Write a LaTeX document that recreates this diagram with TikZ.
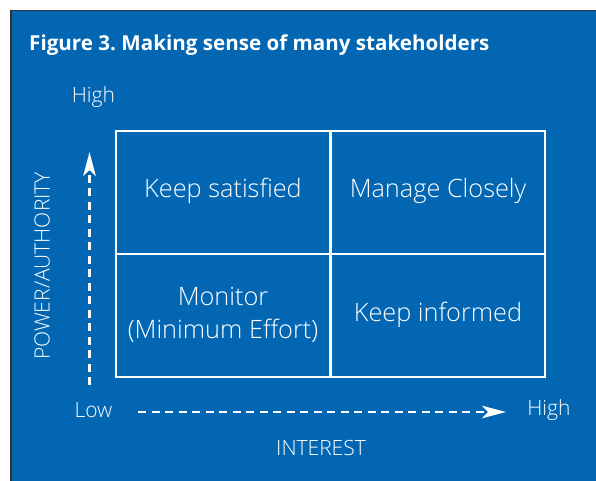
\documentclass[tikz,border=0pt]{standalone}
\usepackage{fontspec}
\setmainfont{Open Sans}
\newfontfamily\lightfont{Open Sans Light}
\usetikzlibrary{arrows.meta}
\definecolor{figblue}{RGB}{2,102,179}
\definecolor{frameline}{RGB}{50,50,55}
\tikzset{
  lbl/.style={text=white, font=\lightfont\fontsize{21}{22}\selectfont, inner sep=0pt},
  cell/.style={text=white, font=\lightfont\fontsize{25.3}{33}\selectfont, align=center, inner sep=0pt},
  axisarrow/.style={draw=white, line width=2.6pt, dash pattern=on 8pt off 5.5pt,
    -{Stealth[length=24pt,width=12.5pt,inset=6pt]}},
  gridline/.style={draw=white, line width=2.2pt},
}
\begin{document}
\frenchspacing
\begin{tikzpicture}[x=1pt,y=-1pt]
\useasboundingbox (0,0) rectangle (596,480);
\fill[white] (0,0) rectangle (596,480);
\filldraw[fill=figblue, draw=frameline, line width=1.6pt] (11,10.5) rectangle (610,495);
\node[anchor=base west, text=white, inner sep=0pt, font=\fontsize{20.6}{24}\bfseries\selectfont] (title) at (29,50) {Figure 3. Making sense of many stakeholders};
% grid
\draw[gridline] (116,131) rectangle (545,377);
\draw[gridline] (330.5,131) -- (330.5,377);
\draw[gridline] (116,254) -- (545,254);
\coordinate (c11) at (223,191);
\coordinate (c12) at (438,191);
\coordinate (c21) at (223,314.5);
\coordinate (c22) at (438,314.5);
\node[cell] (ks) at (c11) {Keep satisfied};
\node[cell] (mc) at (c12) {Manage Closely};
\node[cell] (mo) at (c21) {Monitor\\(Minimum Effort)};
\node[cell] (ki) at (c22) {Keep informed};
% axis labels
\node[lbl] (hightop) at (93.5,97) {High};
\node[lbl] (low) at (93.5,410) {Low};
\node[lbl] (highright) at (549,410) {High};
\node[lbl] (interest) at (321,448) {INTEREST};
\node[lbl, rotate=90] (power) at (42,266) {POWER/AUTHORITY};
% arrows
\coordinate (vs) at (89.5,385);
\coordinate (ve) at (89.5,152);
\coordinate (hs) at (138,412);
\coordinate (he) at (506,412);
\draw[axisarrow] (vs) -- (ve);
\draw[axisarrow] (hs) -- (he);
\end{tikzpicture}
\end{document}
